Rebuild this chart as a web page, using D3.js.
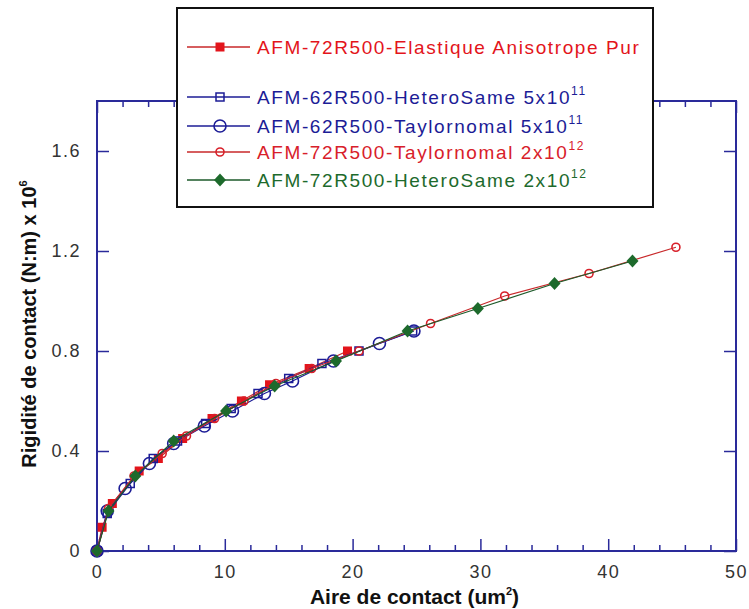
<!DOCTYPE html>
<html>
<head>
<meta charset="utf-8">
<script src="https://d3js.org/d3.v7.min.js"></script>
<style>
  body { margin: 0; background: #fff; }
  svg text { font-family: "Liberation Sans", Arial, sans-serif; }
</style>
</head>
<body>
<div id="chart"></div>
<script>
// --- data ---
// Elastique Anisotrope Pur (red filled squares)
var elastX = [0, 0.4, 1.2, 3.3, 4.8, 6.7, 9.0, 11.3, 13.5, 16.6, 19.6];
var elastY = [0, 0.095, 0.19, 0.32, 0.37, 0.45, 0.53, 0.60, 0.665, 0.73, 0.80];
// HeteroSame 5x10^11 (blue open squares)
var hetero62X = [0, 0.8, 2.6, 4.4, 6.3, 8.5, 10.5, 12.6, 15.0, 17.6, 20.5, 24.7];
var hetero62Y = [0, 0.15, 0.27, 0.37, 0.44, 0.51, 0.57, 0.63, 0.69, 0.75, 0.80, 0.88];
// Taylornomal 5x10^11 (blue open circles)
var taylor62X = [0, 0.8, 2.2, 4.1, 6.0, 8.4, 10.6, 13.1, 15.3, 18.5, 22.1, 24.8];
var taylor62Y = [0, 0.16, 0.25, 0.35, 0.43, 0.50, 0.56, 0.63, 0.68, 0.76, 0.83, 0.88];
// Taylornomal 2x10^12 (red small circles)
var taylor72X = [0, 0.9, 2.9, 5.1, 7.0, 9.2, 11.5, 14.0, 16.8, 20.5, 26.1, 31.9, 38.5, 45.3];
var taylor72Y = [0, 0.17, 0.30, 0.39, 0.46, 0.53, 0.60, 0.67, 0.73, 0.80, 0.91, 1.02, 1.11, 1.215];
// HeteroSame 2x10^12 (green diamonds)
var hetero72X = [0, 0.9, 3.0, 6.0, 10.1, 13.9, 18.7, 24.3, 29.8, 35.8, 41.9];
var hetero72Y = [0, 0.16, 0.30, 0.44, 0.56, 0.66, 0.76, 0.88, 0.97, 1.07, 1.16];

var xTicks = [0, 10, 20, 30, 40, 50];
var yTicks = [0, 0.4, 0.8, 1.2, 1.6];

var series = [
  { name: "AFM-72R500-Elastique Anisotrope Pur", sup: "", xs: elastX, ys: elastY, color: "#e3141b", line: "#c8282a", marker: "fsquare" },
  { name: "AFM-62R500-HeteroSame 5x10", sup: "11", xs: hetero62X, ys: hetero62Y, color: "#1c1c96", line: "#1c1c96", marker: "osquare" },
  { name: "AFM-62R500-Taylornomal 5x10", sup: "11", xs: taylor62X, ys: taylor62Y, color: "#1c1c96", line: "#1c1c96", marker: "ocircle" },
  { name: "AFM-72R500-Taylornomal 2x10", sup: "12", xs: taylor72X, ys: taylor72Y, color: "#d8202a", line: "#c8282a", marker: "scircle" },
  { name: "AFM-72R500-HeteroSame 2x10", sup: "12", xs: hetero72X, ys: hetero72Y, color: "#1d6a2c", line: "#1d5a2a", marker: "diamond" }
];

var W = 749, H = 609;
var pLeft = 97, pRight = 736, pTop = 101, pBottom = 551;

var svg = d3.select("#chart").append("svg")
  .attr("width", W).attr("height", H);

var x = d3.scaleLinear().domain([0, 50]).range([pLeft, pRight]);
var y = d3.scaleLinear().domain([0, 1.8]).range([pBottom, pTop]);

var axisColor = "#2a2a9a";

// frame axes, ticks pointing inward
var minorX = d3.range(0, 51, 2).filter(v => v % 10 !== 0);

function styleTicks(g) {
  g.select(".domain").remove();
  g.selectAll("line").attr("stroke", axisColor).attr("stroke-width", 1.5);
}

svg.append("g").attr("transform", `translate(0,${pBottom})`)
  .call(d3.axisBottom(x).tickValues(xTicks).tickSize(-12).tickFormat(d3.format("d")))
  .call(styleTicks)
  .call(g => g.selectAll("text").attr("y", 14).attr("dy", "0.71em")
      .style("font-size", "18px").style("letter-spacing", "1.5px").attr("fill", "#333"));
svg.append("g").attr("transform", `translate(0,${pBottom})`)
  .call(d3.axisBottom(x).tickValues(minorX).tickSize(-6).tickFormat(""))
  .call(styleTicks);

svg.append("g").attr("transform", `translate(0,${pTop})`)
  .call(d3.axisTop(x).tickValues(xTicks).tickSize(-12).tickFormat(""))
  .call(styleTicks);
svg.append("g").attr("transform", `translate(0,${pTop})`)
  .call(d3.axisTop(x).tickValues(minorX).tickSize(-6).tickFormat(""))
  .call(styleTicks);

svg.append("g").attr("transform", `translate(${pLeft},0)`)
  .call(d3.axisLeft(y).tickValues(yTicks).tickSize(-12).tickFormat(d => d === 0 ? "0" : d3.format(".1f")(d)))
  .call(styleTicks)
  .call(g => g.selectAll("text").attr("x", -16)
      .style("font-size", "18px").style("letter-spacing", "1.5px").attr("fill", "#333"));

svg.append("g").attr("transform", `translate(${pRight},0)`)
  .call(d3.axisRight(y).tickValues(yTicks).tickSize(-12).tickFormat(""))
  .call(styleTicks);

svg.append("rect")
  .attr("x", pLeft).attr("y", pTop)
  .attr("width", pRight - pLeft).attr("height", pBottom - pTop)
  .attr("fill", "none").attr("stroke", axisColor).attr("stroke-width", 2);

// axis titles
var xt = svg.append("text")
  .attr("x", (pLeft + pRight) / 2 - 2).attr("y", 604)
  .attr("text-anchor", "middle")
  .style("font-size", "21px").style("font-weight", "bold").attr("fill", "#111");
xt.append("tspan").text("Aire de contact (um");
xt.append("tspan").attr("dy", -9).style("font-size", "11px").text("2");
xt.append("tspan").attr("dy", 9).text(")");

var yt = svg.append("text")
  .attr("transform", `translate(36,${(pTop + pBottom) / 2 - 2}) rotate(-90)`)
  .attr("text-anchor", "middle")
  .style("font-size", "20px").style("font-weight", "bold").attr("fill", "#111");
yt.append("tspan").text("Rigidité de contact (N:m) x 10");
yt.append("tspan").attr("dy", -9).style("font-size", "11px").text("6");

// markers
function drawMarker(g, type, cx, cy, color) {
  if (type === "fsquare") {
    g.append("rect").attr("x", cx - 4.5).attr("y", cy - 4.5).attr("width", 9).attr("height", 9)
      .attr("fill", color);
  } else if (type === "osquare") {
    g.append("rect").attr("x", cx - 4).attr("y", cy - 4).attr("width", 8).attr("height", 8)
      .attr("fill", "none").attr("stroke", color).attr("stroke-width", 1.5);
  } else if (type === "ocircle") {
    g.append("circle").attr("cx", cx).attr("cy", cy).attr("r", 6)
      .attr("fill", "none").attr("stroke", color).attr("stroke-width", 1.6);
  } else if (type === "scircle") {
    g.append("circle").attr("cx", cx).attr("cy", cy).attr("r", 4)
      .attr("fill", "none").attr("stroke", color).attr("stroke-width", 1.6);
  } else if (type === "diamond") {
    g.append("path").attr("d", "M0,-6.5L6,0L0,6.5L-6,0Z")
      .attr("transform", `translate(${cx},${cy})`).attr("fill", color);
  }
}

var line = d3.line().x(d => x(d[0])).y(d => y(d[1]));

var plot = svg.append("g");
series.forEach(function (s) {
  var pts = s.xs.map((v, i) => [v, s.ys[i]]);
  plot.append("path").datum(pts).attr("d", line)
    .attr("fill", "none").attr("stroke", s.line).attr("stroke-width", 1.2);
  var mg = plot.append("g");
  pts.forEach(p => drawMarker(mg, s.marker, x(p[0]), y(p[1]), s.color));
});

// legend
var legend = svg.append("g");
legend.append("rect")
  .attr("x", 177).attr("y", 8).attr("width", 476).attr("height", 199)
  .attr("fill", "#fff").attr("stroke", "#111").attr("stroke-width", 2);

var rowY = [47, 97, 126, 152, 180];
series.forEach(function (s, i) {
  var ly = rowY[i];
  legend.append("line").attr("x1", 187).attr("x2", 250).attr("y1", ly).attr("y2", ly)
    .attr("stroke", s.line).attr("stroke-width", 1.5);
  drawMarker(legend, s.marker, 220, ly, s.color);
  var t = legend.append("text").attr("x", 257).attr("y", ly + 7)
    .style("font-size", "19px").style("letter-spacing", "1.6px").attr("fill", s.color);
  t.append("tspan").text(s.name);
  if (s.sup) t.append("tspan").attr("dy", -9).style("font-size", "12px").text(s.sup);
});
</script>
</body>
</html>
